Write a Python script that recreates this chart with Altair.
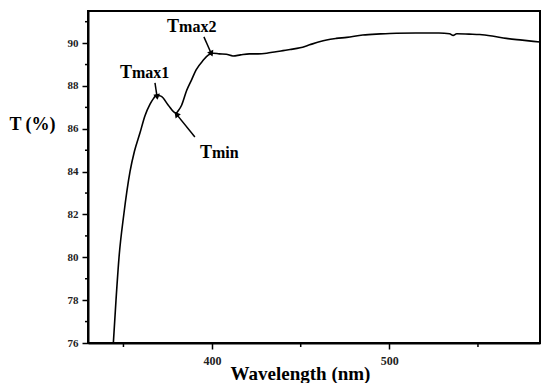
import altair as alt
import pandas as pd

# Transmittance spectrum
wavelength = [344.3, 345.8, 347.5, 350.2, 353.7, 356.2, 359.3, 362.1, 365, 367, 368.7, 370, 371.6,
              375.3, 379.6, 381, 382.8, 385.7, 388.5, 391, 395, 398, 400.7, 404, 408, 411.8,
              416, 421, 426, 430.8, 436, 440, 444, 449.6, 455, 460, 464.6, 470, 476, 485, 495,
              504, 515, 528, 534, 536, 538, 545, 551, 558, 566, 575, 585]
transmittance = [76.0, 78.0, 80.0, 82.0, 84.0, 84.95, 85.8, 86.6, 87.15, 87.42, 87.58, 87.55, 87.5,
                 87.1, 86.73, 86.85, 87.1, 87.8, 88.3, 88.75, 89.2, 89.45, 89.53, 89.5, 89.48, 89.4,
                 89.45, 89.5, 89.5, 89.53, 89.6, 89.65, 89.7, 89.78, 89.92, 90.05, 90.15, 90.22, 90.27,
                 90.38, 90.43, 90.46, 90.47, 90.47, 90.44, 90.36, 90.44, 90.42, 90.4, 90.33, 90.22,
                 90.14, 90.05]

# Annotation labels
label_main = ["T", "T", "T"]
label_sub = ["max1", "max2", "min"]
label_wl = [348.0, 374.6, 393.2]
label_t = [88.37, 90.52, 84.64]

# Annotation arrows (start -> end)
arrow_wl1 = [367.8, 395.4, 390.3]
arrow_t1 = [88.14, 90.29, 85.62]
arrow_wl2 = [368.9, 399.4, 380.2]
arrow_t2 = [87.53, 89.54, 86.65]
arrow_angle = [171, 156, 321]

# Ticks
y_major = [76, 78, 80, 82, 84, 86, 88, 90]
y_minor = [77, 79, 81, 83, 85, 87, 89, 91]
x_major = [400, 500]
x_minor = [350, 450, 550]

X_DOMAIN = [330, 585]
Y_DOMAIN = [76, 91.5]
FONT = "Liberation Serif"

curve = pd.DataFrame({"wl": wavelength, "T": transmittance})
labels = pd.DataFrame({"wl": label_wl, "T": label_t, "main": label_main, "sub": label_sub})
arrows = pd.DataFrame({"wl1": arrow_wl1, "t1": arrow_t1, "wl2": arrow_wl2, "t2": arrow_t2,
                       "ang": arrow_angle})
yminor_df = pd.DataFrame({"v": y_minor})
xminor_df = pd.DataFrame({"v": x_minor})

xscale = alt.Scale(domain=X_DOMAIN, nice=False, zero=False)
yscale = alt.Scale(domain=Y_DOMAIN, nice=False, zero=False)

xaxis = alt.Axis(values=x_major, title="Wavelength (nm)", grid=False, tickSize=6,
                 tickColor="black", tickWidth=1.5, domainColor="black", domainWidth=2,
                 labelFont=FONT, labelFontWeight="bold", labelFontSize=12, labelColor="#222",
                 labelPadding=6, titleFont=FONT, titleFontWeight="bold", titleFontSize=19,
                 titleColor="black", titleX=212, titleY=36, titleBaseline="alphabetic",
                 titleAnchor="middle", titleAlign="center")
yaxis = alt.Axis(values=y_major, title="T (%)", grid=False, tickSize=6, tickColor="black",
                 tickWidth=1.5, domainColor="black", domainWidth=2, labelFont=FONT,
                 labelFontWeight="bold", labelFontSize=11, labelColor="#222", labelPadding=4,
                 titleFont=FONT, titleFontWeight="bold", titleFontSize=18, titleColor="black",
                 titleAngle=0, titleX=-56, titleY=113, titleAlign="center",
                 titleBaseline="middle")

line = alt.Chart(curve).mark_line(color="black", strokeWidth=1.6, clip=True,
                                  interpolate="monotone").encode(
    x=alt.X("wl:Q", scale=xscale, axis=xaxis),
    y=alt.Y("T:Q", scale=yscale, axis=yaxis),
)

main_txt = alt.Chart(labels).mark_text(align="left", baseline="alphabetic", font=FONT,
                                       fontWeight="bold", fontSize=18, color="black").encode(
    x="wl:Q", y="T:Q", text="main:N")
sub_txt = alt.Chart(labels).mark_text(align="left", baseline="alphabetic", font=FONT,
                                      fontWeight="bold", fontSize=16, dx=12,
                                      color="black").encode(
    x="wl:Q", y="T:Q", text="sub:N")

arrow_line = alt.Chart(arrows).mark_rule(color="black", strokeWidth=1.5).encode(
    x="wl1:Q", y="t1:Q", x2="wl2:Q", y2="t2:Q")
arrow_head = alt.Chart(arrows).mark_point(shape="triangle", filled=True, color="black",
                                          size=45, opacity=1).encode(
    x="wl2:Q", y="t2:Q", angle=alt.Angle("ang:Q", scale=None))

ytick_minor = alt.Chart(yminor_df).mark_rule(color="black", strokeWidth=1.5).encode(
    y="v:Q", x=alt.value(-3), x2=alt.value(0))
xtick_minor = alt.Chart(xminor_df).mark_rule(color="black", strokeWidth=1.5).encode(
    x="v:Q", y=alt.value(332), y2=alt.value(336))

chart = alt.layer(line, ytick_minor, xtick_minor, arrow_line, arrow_head, main_txt,
                  sub_txt).properties(
    width=452, height=332,
    autosize=alt.AutoSizeParams(type="none"),
    padding={"left": 80, "top": 3, "right": 2, "bottom": 40},
    background="white",
).configure_view(stroke="black", strokeWidth=2)

chart.save("out.html", embed_options={"renderer": "svg", "actions": False})
